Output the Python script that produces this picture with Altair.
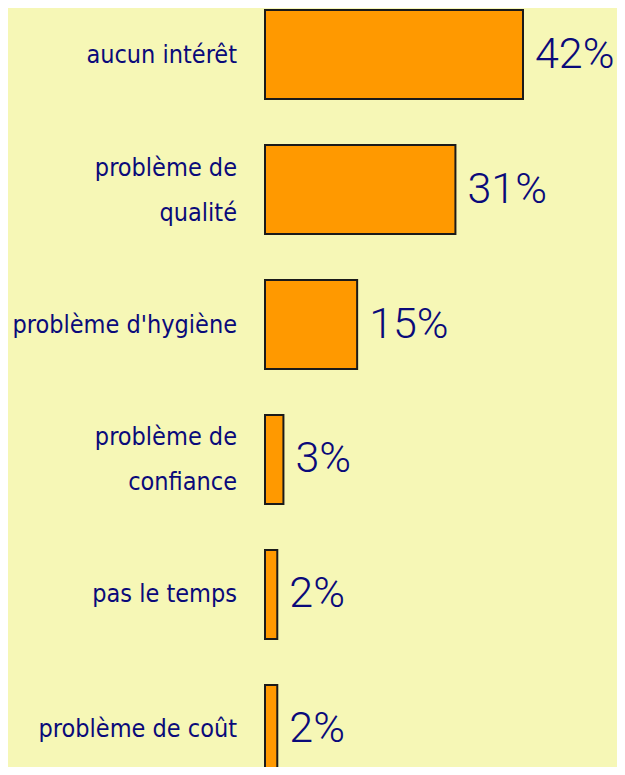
import altair as alt
import pandas as pd

categories = [
    "aucun intérêt",
    "problème de\nqualité",
    "problème d'hygiène",
    "problème de\nconfiance",
    "pas le temps",
    "problème de coût",
]
values = [42, 31, 15, 3, 2, 2]
value_labels = ["42%", "31%", "15%", "3%", "2%", "2%"]

df = pd.DataFrame({"cat": categories, "value": values, "label": value_labels})

BG = "#F6F7B6"
NAVY = "#0A0A7A"
FONT_CAT = "'DejaVu Sans Condensed', sans-serif"
FONT_VAL = "Roboto, sans-serif"

y_scale = alt.Scale(paddingInner=0.34, paddingOuter=0.015, range=[0, 768])
y_enc = alt.Y("cat:N", sort=categories, axis=None, scale=y_scale)
x_scale = alt.Scale(domain=[0, 42], nice=False, zero=True)

base = alt.Chart(df)

bars = base.mark_bar(
    color="#FF9900", stroke="#1A1A1A", strokeWidth=2
).encode(
    x=alt.X("value:Q", scale=x_scale, axis=None),
    y=y_enc,
)

cat_single = base.transform_filter("indexof(datum.cat, '\\n') < 0").mark_text(
    align="right", baseline="middle", font=FONT_CAT, fontSize=25,
    color=NAVY, lineBreak="\n", lineHeight=45
).encode(
    x=alt.value(-28),
    y=y_enc,
    text="cat:N",
)

cat_multi = base.transform_filter("indexof(datum.cat, '\\n') >= 0").mark_text(
    align="right", baseline="middle", font=FONT_CAT, fontSize=25,
    color=NAVY, lineBreak="\n", lineHeight=45, dy=-22
).encode(
    x=alt.value(-28),
    y=y_enc,
    text="cat:N",
)

val_text = base.mark_text(
    align="left", baseline="middle", font=FONT_VAL, fontSize=43, fontWeight=300,
    color=NAVY, dx=12
).encode(
    x=alt.X("value:Q", scale=x_scale, axis=None),
    y=y_enc,
    text="label:N",
)

chart = alt.layer(bars, cat_single, cat_multi, val_text).properties(
    width=258,
    height=759,
    background=BG,
    padding={"left": 257, "top": 0, "right": 94, "bottom": 0},
    autosize=alt.AutoSizeParams(type="none"),
).configure_view(stroke=None)

chart.save("out.html", embed_options={"renderer": "svg", "actions": False})
